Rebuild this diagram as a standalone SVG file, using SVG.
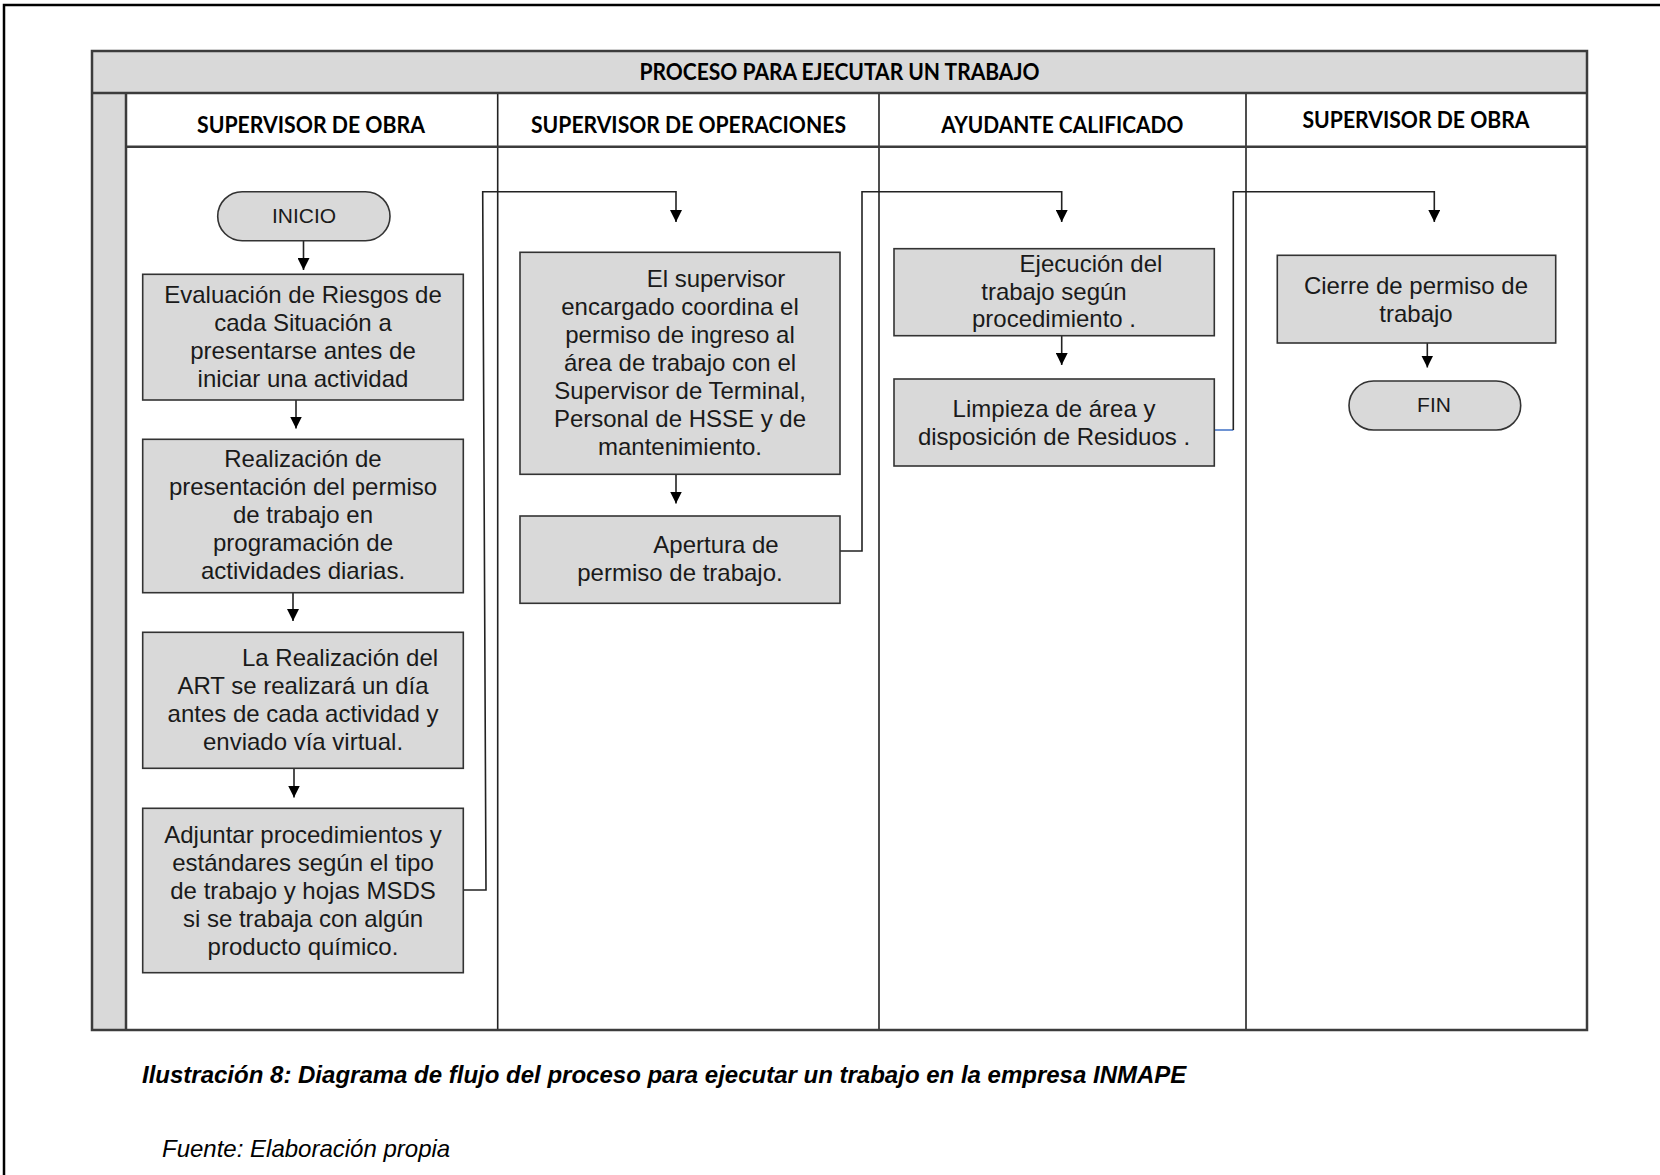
<svg xmlns="http://www.w3.org/2000/svg" width="1660" height="1175" viewBox="0 0 1660 1175">
<style>
.frame{fill:none;stroke:#000;stroke-width:2.5}
.band{fill:#d9d9d9;stroke:none}
.tl{stroke:#3c3c3c;stroke-width:2.5;fill:none}
.div{stroke:#222;stroke-width:1.6;fill:none}
.box{fill:#d9d9d9;stroke:#333;stroke-width:1.6}
.t{font-family:"Liberation Sans",Arial,sans-serif;font-size:24px;fill:#1a1a1a;text-anchor:middle}
.term{font-size:21px}
.h{font-family:Lato,"Open Sans",sans-serif;font-weight:700;font-size:22px;fill:#000;text-anchor:middle}
.conn{stroke:#222;stroke-width:1.6;fill:none}
.blue{stroke:#4a78c8;stroke-width:1.6;fill:none}
.cap{font-family:"Liberation Sans",Arial,sans-serif;font-size:24px;font-style:italic;fill:#000}
</style>
<defs>
<marker id="ah" viewBox="0 0 12 12" refX="12" refY="6" markerWidth="12" markerHeight="12" markerUnits="userSpaceOnUse" orient="auto">
<path d="M0,0 L12,6 L0,12 z" fill="#000"/>
</marker>
</defs>
<rect width="1660" height="1175" fill="#fff"/>
<rect class="frame" x="4" y="5" width="1700" height="1250"/>

<g id="table">
<rect class="band" x="92" y="51" width="1495" height="42"/>
<rect class="band" x="92" y="93" width="34" height="937"/>
<line class="div" x1="497.7" y1="93" x2="497.7" y2="1030"/>
<line class="div" x1="879" y1="93" x2="879" y2="1030"/>
<line class="div" x1="1246" y1="93" x2="1246" y2="1030"/>
<line class="tl" x1="126" y1="93" x2="126" y2="1030"/>
<line class="tl" x1="92" y1="93" x2="1587" y2="93"/>
<line class="tl" x1="126" y1="146.7" x2="1587" y2="146.7"/>
<rect class="tl" x="92" y="51" width="1495" height="979"/>
<text class="h" x="839.5" y="80" textLength="400" lengthAdjust="spacingAndGlyphs">PROCESO PARA EJECUTAR UN TRABAJO</text>
<text class="h" x="311" y="133" textLength="228" lengthAdjust="spacingAndGlyphs">SUPERVISOR DE OBRA</text>
<text class="h" x="688.5" y="133" textLength="315" lengthAdjust="spacingAndGlyphs">SUPERVISOR DE OPERACIONES</text>
<text class="h" x="1062.3" y="133" textLength="242" lengthAdjust="spacingAndGlyphs">AYUDANTE CALIFICADO</text>
<text class="h" x="1416" y="127.5" textLength="227" lengthAdjust="spacingAndGlyphs">SUPERVISOR DE OBRA</text>
</g>

<g id="connectors">
<line class="conn" x1="303.5" y1="240.7" x2="303.5" y2="270" marker-end="url(#ah)"/>
<line class="conn" x1="296" y1="400" x2="296" y2="428.5" marker-end="url(#ah)"/>
<line class="conn" x1="293" y1="592.7" x2="293" y2="621" marker-end="url(#ah)"/>
<line class="conn" x1="294" y1="768.3" x2="294" y2="797.5" marker-end="url(#ah)"/>
<path class="conn" d="M463.3,890 H486 L482.7,191.7 H676 V222" marker-end="url(#ah)"/>
<line class="conn" x1="676" y1="474.3" x2="676" y2="503.5" marker-end="url(#ah)"/>
<path class="conn" d="M840,551 H862 V191.7 H1061.7 V222" marker-end="url(#ah)"/>
<line class="conn" x1="1061.7" y1="335.7" x2="1061.7" y2="365" marker-end="url(#ah)"/>
<line class="blue" x1="1214.3" y1="430" x2="1233.3" y2="430"/>
<path class="conn" d="M1233.3,430 V191.7 H1434.3 V222" marker-end="url(#ah)"/>
<line class="conn" x1="1427.3" y1="343" x2="1427.3" y2="367.5" marker-end="url(#ah)"/>
</g>

<g id="inicio">
<rect class="box" x="217.7" y="191.7" width="172.3" height="49" rx="24.5"/>
<text class="t term" x="304" y="223">INICIO</text>
</g>

<g id="evaluacion">
<rect class="box" x="142.7" y="274.3" width="320.6" height="125.7"/>
<text class="t" x="303" y="303">Evaluación de Riesgos de</text>
<text class="t" x="303" y="331">cada Situación a</text>
<text class="t" x="303" y="359">presentarse antes de</text>
<text class="t" x="303" y="387">iniciar una actividad</text>
</g>

<g id="realizacion">
<rect class="box" x="142.7" y="439.3" width="320.6" height="153.4"/>
<text class="t" x="303" y="467">Realización de</text>
<text class="t" x="303" y="495">presentación del permiso</text>
<text class="t" x="303" y="523">de trabajo en</text>
<text class="t" x="303" y="551">programación de</text>
<text class="t" x="303" y="579">actividades diarias.</text>
</g>

<g id="art">
<rect class="box" x="142.7" y="632.3" width="320.6" height="136"/>
<text class="t" x="340" y="666">La Realización del</text>
<text class="t" x="303" y="694">ART se realizará un día</text>
<text class="t" x="303" y="722">antes de cada actividad y</text>
<text class="t" x="303" y="750">enviado vía virtual.</text>
</g>

<g id="adjuntar">
<rect class="box" x="142.7" y="808.3" width="320.6" height="164.4"/>
<text class="t" x="303" y="843">Adjuntar procedimientos y</text>
<text class="t" x="303" y="871">estándares según el tipo</text>
<text class="t" x="303" y="899">de trabajo y hojas MSDS</text>
<text class="t" x="303" y="927">si se trabaja con algún</text>
<text class="t" x="303" y="955">producto químico.</text>
</g>

<g id="coordina">
<rect class="box" x="520" y="252.3" width="320" height="222"/>
<text class="t" x="716" y="287">El supervisor</text>
<text class="t" x="680" y="315">encargado coordina el</text>
<text class="t" x="680" y="343">permiso de ingreso al</text>
<text class="t" x="680" y="371">área de trabajo con el</text>
<text class="t" x="680" y="399">Supervisor de Terminal,</text>
<text class="t" x="680" y="427">Personal de HSSE y de</text>
<text class="t" x="680" y="455">mantenimiento.</text>
</g>

<g id="apertura">
<rect class="box" x="520" y="516" width="320" height="87.3"/>
<text class="t" x="716" y="553">Apertura de</text>
<text class="t" x="680" y="581">permiso de trabajo.</text>
</g>

<g id="ejecucion">
<rect class="box" x="894" y="248.7" width="320.3" height="87"/>
<text class="t" x="1091" y="272">Ejecución del</text>
<text class="t" x="1054" y="300">trabajo según</text>
<text class="t" x="1054" y="327">procedimiento .</text>
</g>

<g id="limpieza">
<rect class="box" x="894" y="379" width="320.3" height="87"/>
<text class="t" x="1054" y="417">Limpieza de área y</text>
<text class="t" x="1054" y="445">disposición de Residuos .</text>
</g>

<g id="cierre">
<rect class="box" x="1277.3" y="255.3" width="278.4" height="87.7"/>
<text class="t" x="1416" y="294">Cierre de permiso de</text>
<text class="t" x="1416" y="322">trabajo</text>
</g>

<g id="fin">
<rect class="box" x="1349" y="381" width="171.7" height="49" rx="24.5"/>
<text class="t term" x="1434" y="412">FIN</text>
</g>

<text class="cap" x="142" y="1083" font-weight="700">Ilustración 8: Diagrama de flujo del proceso para ejecutar un trabajo en la empresa INMAPE</text>
<text class="cap" x="162" y="1157">Fuente: Elaboración propia</text>
</svg>
